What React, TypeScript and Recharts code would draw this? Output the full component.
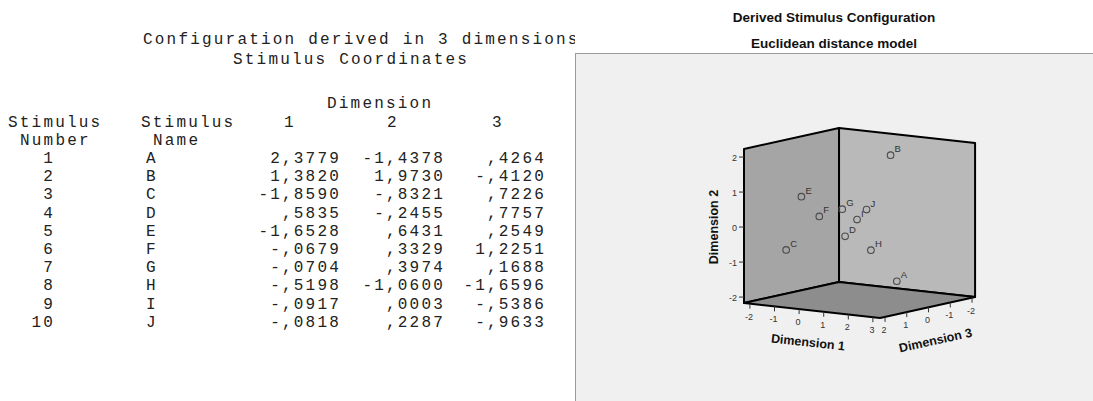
import { Scatter, ScatterChart, XAxis, YAxis } from 'recharts'

const stimulusNumbers = [1, 2, 3, 4, 5, 6, 7, 8, 9, 10]
const stimulusNames = ['A', 'B', 'C', 'D', 'E', 'F', 'G', 'H', 'I', 'J']
const dim1 = [2.3779, 1.382, -1.859, 0.5835, -1.6528, -0.0679, -0.0704, -0.5198, -0.0917, -0.0818]
const dim2 = [-1.4378, 1.973, -0.8321, -0.2455, 0.6431, 0.3329, 0.3974, -1.06, 0.0003, 0.2287]
const dim3 = [0.4264, -0.412, 0.7226, 0.7757, 0.2549, 1.2251, 0.1688, -1.6596, -0.5386, -0.9633]

const dim1Ticks = [-2, -1, 0, 1, 2, 3]
const dim2Ticks = [-2, -1, 0, 1, 2]
const dim3Ticks = [-2, -1, 0, 1, 2]

// extent of the 3-D frame, data units
const dim1Range = [-2.24, 3.29]
const dim2Range = [-2.17, 2.23]
const dim3Range = [-2.14, 2.23]

const panelW = 518
const panelH = 348

// oblique view: pixels moved per data unit along each dimension
const view = { ox: 169, oy: 250, d1x: 24.6, d1y: 2.71, d2y: -35, d3x: -21.75, d3y: 4.8 }

function project(d1: number, d2: number, d3: number) {
  const a = d1 - dim1Range[0]
  const b = d2 - dim2Range[0]
  const c = d3 - dim3Range[1]
  return {
    x: view.ox + a * view.d1x + c * view.d3x,
    y: view.oy + a * view.d1y + b * view.d2y + c * view.d3y,
  }
}

const [a1, b1] = dim1Range
const [a2, b2] = dim2Range
const [a3, b3] = dim3Range

const leftWall = [[a1, a2, b3], [a1, b2, b3], [a1, b2, a3], [a1, a2, a3]].map((p) => project(p[0], p[1], p[2]))
const backWall = [[a1, a2, a3], [a1, b2, a3], [b1, b2, a3], [b1, a2, a3]].map((p) => project(p[0], p[1], p[2]))
const floor = [[a1, a2, b3], [b1, a2, b3], [b1, a2, a3], [a1, a2, a3]].map((p) => project(p[0], p[1], p[2]))

const points = stimulusNames.map((name, i) => ({ name, ...project(dim1[i], dim2[i], dim3[i]) }))
const dim1TickPts = dim1Ticks.map((t) => ({ label: String(t), ...project(t, a2, b3) }))
const dim2TickPts = dim2Ticks.map((t) => ({ label: String(t), ...project(a1, t, b3) }))
const dim3TickPts = dim3Ticks.map((t) => ({ label: String(t), ...project(b1, a2, t) }))

const deg = (p: { x: number; y: number }, q: { x: number; y: number }) =>
  (Math.atan2(q.y - p.y, q.x - p.x) * 180) / Math.PI

const axisTitles = [
  { label: 'Dimension 1', dx: -4, dy: 32, rot: deg(project(a1, a2, b3), project(b1, a2, b3)), ...project((a1 + b1) / 2, a2, b3) },
  { label: 'Dimension 2', dx: -30, dy: 1, rot: -90, ...project(a1, (a2 + b2) / 2, b3) },
  { label: 'Dimension 3', dx: 8, dy: 33, rot: deg(project(b1, a2, b3), project(b1, a2, a3)), ...project(b1, a2, (a3 + b3) / 2) },
]

const fmt = (v: number) => (v < 0 ? '-' : '') + Math.abs(v).toFixed(4).replace(/^0/, '').replace('.', ',')

const sans = '"Liberation Sans", Arial, sans-serif'
const mono = '"Liberation Mono", "DejaVu Sans Mono", monospace'

function FacePath(props: any) {
  const pts = props.points || []
  if (!pts.length) return null
  const d = pts.map((p: any, i: number) => `${i ? 'L' : 'M'}${p.x},${p.y}`).join(' ') + ' Z'
  return <path d={d} fill={props.faceColor} stroke="#000" strokeWidth={2} strokeLinejoin="round" />
}

const noShape = () => <g />

function PointShape(props: any) {
  const { cx, cy, payload } = props
  return (
    <g>
      <circle cx={cx} cy={cy} r={3.3} fill="none" stroke="#4a4a4a" strokeWidth={1.1} />
      <text x={cx + 4} y={cy - 3} fontSize={9.5} fill="#333" fontFamily={sans}>
        {payload.name}
      </text>
    </g>
  )
}

function FloorTick(props: any) {
  const { cx, cy, payload } = props
  return (
    <g>
      <line x1={cx} y1={cy} x2={cx} y2={cy + 5} stroke="#333" strokeWidth={1} />
      <text x={cx - 1} y={cy + 16} fontSize={9} fill="#333" fontFamily={sans} textAnchor="middle">
        {payload.label}
      </text>
    </g>
  )
}

function SideTick(props: any) {
  const { cx, cy, payload } = props
  return (
    <g>
      <line x1={cx - 5} y1={cy} x2={cx} y2={cy} stroke="#333" strokeWidth={1} />
      <text x={cx - 7} y={cy + 3.5} fontSize={9} fill="#333" fontFamily={sans} textAnchor="end">
        {payload.label}
      </text>
    </g>
  )
}

function AxisTitle(props: any) {
  const { cx, cy, payload } = props
  const x = cx + payload.dx
  const y = cy + payload.dy
  return (
    <text
      x={x}
      y={y}
      fontSize={12.5}
      fontWeight="bold"
      fill="#111"
      fontFamily={sans}
      textAnchor="middle"
      dominantBaseline="central"
      transform={`rotate(${payload.rot} ${x} ${y})`}
    >
      {payload.label}
    </text>
  )
}

function CoordinateTable() {
  const rowY = (i: number) => 163 + i * 18.2
  const t = { fontFamily: mono, fontSize: 16, letterSpacing: 2.2, fill: '#222' }
  return (
    <svg width={575} height={401} style={{ position: 'absolute', left: 0, top: 0 }}>
      <text x={143} y={44} {...t}>Configuration derived in 3 dimensions</text>
      <text x={233} y={64} {...t}>Stimulus Coordinates</text>
      <text x={327} y={108} {...t}>Dimension</text>
      <text x={8} y={127} {...t}>Stimulus</text>
      <text x={141} y={127} {...t}>Stimulus</text>
      <text x={290} y={127} {...t} textAnchor="middle">1</text>
      <text x={393} y={127} {...t} textAnchor="middle">2</text>
      <text x={498} y={127} {...t} textAnchor="middle">3</text>
      <text x={20} y={145} {...t}>Number</text>
      <text x={153} y={145} {...t}>Name</text>
      {stimulusNumbers.map((n, i) => (
        <g key={n}>
          <text x={55} y={rowY(i)} {...t} textAnchor="end">{n}</text>
          <text x={146} y={rowY(i)} {...t}>{stimulusNames[i]}</text>
          <text x={341} y={rowY(i)} {...t} textAnchor="end">{fmt(dim1[i])}</text>
          <text x={445} y={rowY(i)} {...t} textAnchor="end">{fmt(dim2[i])}</text>
          <text x={546} y={rowY(i)} {...t} textAnchor="end">{fmt(dim3[i])}</text>
        </g>
      ))}
    </svg>
  )
}

export default function App() {
  return (
    <div style={{ position: 'absolute', left: 0, top: 0, width: 1093, height: 401, background: '#fff', overflow: 'hidden' }}>
      <CoordinateTable />
      <div style={{ position: 'absolute', left: 575, top: 0, width: 518, textAlign: 'center', fontFamily: sans, fontWeight: 'bold', fontSize: 13.5, color: '#111' }}>
        <div style={{ position: 'absolute', left: 0, right: 0, top: 10 }}>Derived Stimulus Configuration</div>
        <div style={{ position: 'absolute', left: 0, right: 0, top: 36 }}>Euclidean distance model</div>
      </div>
      <div style={{ position: 'absolute', left: 575, top: 53, width: 530, height: 360, background: '#f0f0f0', borderLeft: '1px solid #9a9a9a', borderTop: '1px solid #9a9a9a' }} />
      <div style={{ position: 'absolute', left: 575, top: 53 }}>
        <ScatterChart width={panelW} height={panelH} margin={{ top: 0, right: 0, bottom: 0, left: 0 }}>
          <XAxis type="number" dataKey="x" domain={[0, panelW]} allowDataOverflow hide />
          <YAxis type="number" dataKey="y" domain={[0, panelH]} allowDataOverflow reversed hide />
          <Scatter data={leftWall} shape={noShape} line={<FacePath faceColor="#a5a5a5" />} isAnimationActive={false} />
          <Scatter data={backWall} shape={noShape} line={<FacePath faceColor="#b9b9b9" />} isAnimationActive={false} />
          <Scatter data={floor} shape={noShape} line={<FacePath faceColor="#8d8d8d" />} isAnimationActive={false} />
          <Scatter data={dim1TickPts} shape={FloorTick} isAnimationActive={false} />
          <Scatter data={dim3TickPts} shape={FloorTick} isAnimationActive={false} />
          <Scatter data={dim2TickPts} shape={SideTick} isAnimationActive={false} />
          <Scatter data={axisTitles} shape={AxisTitle} isAnimationActive={false} />
          <Scatter data={points} shape={PointShape} isAnimationActive={false} />
        </ScatterChart>
      </div>
    </div>
  )
}
